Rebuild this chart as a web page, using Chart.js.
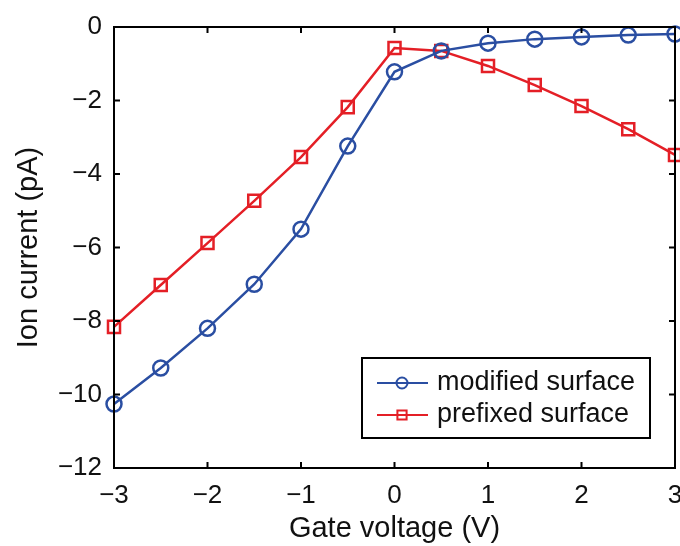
<!DOCTYPE html>
<html>
<head>
<meta charset="utf-8">
<script src="https://cdn.jsdelivr.net/npm/chart.js@4/dist/chart.umd.min.js"></script>
<style>
  html, body { margin: 0; padding: 0; background: #fff; }
  #wrap { width: 680px; height: 546px; }
</style>
</head>
<body>
<div id="wrap"><canvas id="myChart" width="680" height="546"></canvas></div>
<script>
'use strict';

let gateVoltage = [-3, -2.5, -2, -1.5, -1, -0.5, 0, 0.5, 1, 1.5, 2, 2.5, 3];
let modified = [-10.26, -9.28, -8.2, -7.0, -5.5, -3.24, -1.22, -0.65, -0.44, -0.33, -0.27, -0.22, -0.19];
let prefixed = [-8.16, -7.02, -5.88, -4.73, -3.54, -2.18, -0.57, -0.65, -1.06, -1.58, -2.15, -2.78, -3.48];
let xTicks = [-3, -2, -1, 0, 1, 2, 3];
let yTicks = [0, -2, -4, -6, -8, -10, -12];
let seriesNames = ['modified surface', 'prefixed surface'];

let blue = '#2a4ea2';
let red = '#e41f26';
let fontFamily = 'Arial, "Liberation Sans", sans-serif';
let plotRight = 675; // the original plot runs right up to the page edge

function toPoints(xs, ys) {
    let pts = [];
    for (let i = 0; i < xs.length; i++) {
        pts.push({ x: xs[i], y: ys[i] });
    }
    return pts;
}

function minus(v) {
    return String(v).replace('-', '\u2212');
}

// stretch the x axis to the right edge (chart.js keeps room for the "3" label otherwise)
let stretchPlugin = {
    id: 'stretch',
    afterLayout(chart) {
        let xs = chart.scales.x;
        chart.chartArea.right = plotRight;
        chart.chartArea.width = plotRight - chart.chartArea.left;
        xs.right = plotRight;
        xs.width = plotRight - xs.left;
        xs.configure();
        chart.scales.y.configure();
    }
};

// frame, inward ticks on all four sides, and the boxed legend
let framePlugin = {
    id: 'frame',
    afterDraw(chart) {
        let ctx = chart.ctx;
        let a = chart.chartArea;
        let xs = chart.scales.x;
        let ys = chart.scales.y;
        let len = 6;
        ctx.save();
        ctx.strokeStyle = '#000';
        ctx.lineWidth = 2;
        ctx.strokeRect(a.left, a.top, a.right - a.left, a.bottom - a.top);
        ctx.beginPath();
        for (let v of xTicks) {
            let px = xs.getPixelForValue(v);
            ctx.moveTo(px, a.bottom); ctx.lineTo(px, a.bottom - len);
            ctx.moveTo(px, a.top); ctx.lineTo(px, a.top + len);
        }
        for (let v of yTicks) {
            let py = ys.getPixelForValue(v);
            ctx.moveTo(a.left, py); ctx.lineTo(a.left + len, py);
            ctx.moveTo(a.right, py); ctx.lineTo(a.right - len, py);
        }
        ctx.stroke();

        // legend
        let bx = a.right - 313, by = a.bottom - 110, bw = 288, bh = 80;
        ctx.fillStyle = '#fff';
        ctx.fillRect(bx, by, bw, bh);
        ctx.strokeRect(bx, by, bw, bh);
        let colors = [blue, red];
        let styles = ['circle', 'rect'];
        for (let i = 0; i < seriesNames.length; i++) {
            let cy = by + 25 + i * 32;
            ctx.strokeStyle = colors[i];
            ctx.lineWidth = 2;
            ctx.beginPath();
            ctx.moveTo(bx + 15, cy); ctx.lineTo(bx + 66, cy);
            ctx.stroke();
            ctx.fillStyle = 'rgba(0,0,0,0)';
            Chart.helpers.drawPoint(ctx, { pointStyle: styles[i], radius: styles[i] === 'rect' ? 6.5 : 5.5, borderWidth: 2 }, bx + 40, cy);
            ctx.fillStyle = '#111';
            ctx.font = '27px ' + fontFamily;
            ctx.textBaseline = 'middle';
            ctx.textAlign = 'left';
            ctx.fillText(seriesNames[i], bx + 75, cy);
        }
        ctx.restore();
    }
};

let ctx = document.getElementById('myChart').getContext('2d');
let myChart = new Chart(ctx, {
    type: 'line',
    data: {
        datasets: [{
            label: seriesNames[0],
            data: toPoints(gateVoltage, modified),
            borderColor: blue,
            backgroundColor: 'transparent',
            borderWidth: 2.5,
            pointStyle: 'circle',
            pointRadius: 7.5,
            pointBorderWidth: 2.5,
            pointBorderColor: blue,
            pointBackgroundColor: 'transparent',
            tension: 0,
            clip: false
        }, {
            label: seriesNames[1],
            data: toPoints(gateVoltage, prefixed),
            borderColor: red,
            backgroundColor: 'transparent',
            borderWidth: 2.5,
            pointStyle: 'rect',
            pointRadius: 8.5,
            pointBorderWidth: 2.5,
            pointBorderColor: red,
            pointBackgroundColor: 'transparent',
            tension: 0,
            clip: false
        }]
    },
    options: {
        responsive: false,
        animation: false,
        layout: { padding: { top: 27, right: 5, left: 0, bottom: 0 } },
        plugins: {
            legend: { display: false },
            tooltip: { enabled: false }
        },
        scales: {
            x: {
                type: 'linear',
                min: -3,
                max: 3,
                afterFit(scale) {
                    scale.height = 78;
                    scale.paddingLeft = 0;
                    scale.paddingRight = 0;
                },
                afterBuildTicks(scale) { scale.ticks = xTicks.map(v => ({ value: v })); },
                grid: { display: false, drawTicks: false },
                border: { display: false },
                ticks: {
                    padding: 12,
                    color: '#111',
                    font: { size: 26, family: fontFamily },
                    maxRotation: 0,
                    callback: v => minus(v)
                },
                title: {
                    display: true,
                    text: 'Gate voltage (V)',
                    color: '#111',
                    font: { size: 29, family: fontFamily },
                    padding: { top: 0, bottom: 0 }
                }
            },
            y: {
                type: 'linear',
                min: -12,
                max: 0,
                afterFit(scale) {
                    scale.width = 114;
                    scale.paddingTop = 0;
                    scale.paddingBottom = 0;
                },
                afterBuildTicks(scale) { scale.ticks = yTicks.map(v => ({ value: v })); },
                grid: { display: false, drawTicks: false },
                border: { display: false },
                ticks: {
                    padding: 12,
                    color: '#111',
                    font: { size: 26, family: fontFamily },
                    callback: v => minus(v)
                },
                title: {
                    display: true,
                    text: 'Ion current (pA)',
                    color: '#111',
                    font: { size: 29, family: fontFamily },
                    padding: { top: 12, bottom: 0 }
                }
            }
        }
    },
    plugins: [stretchPlugin, framePlugin]
});
</script>
</body>
</html>
